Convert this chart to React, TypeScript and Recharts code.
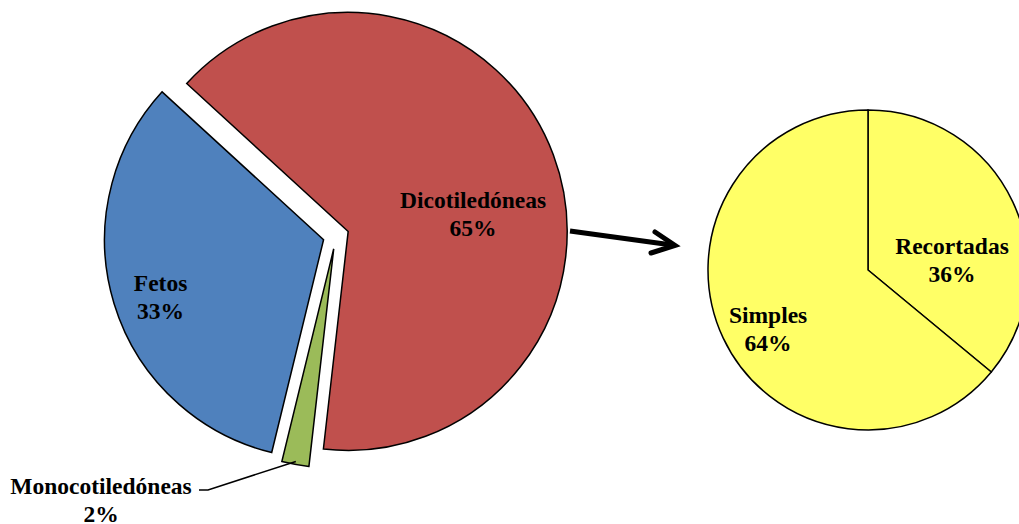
import React from 'react';
import { PieChart, Pie, Cell, Customized } from 'recharts';

// Left pie: plant groups (exploded)
const groupNames = ['Dicotiledóneas', 'Monocotiledóneas', 'Fetos'];
const groupValues = [65, 2, 33];
const groupColors = ['#C0504D', '#9BBB59', '#4F81BD'];

// Right pie: leaf types of Dicotiledóneas
const leafNames = ['Recortadas', 'Simples'];
const leafValues = [36, 64];
const leafColor = '#FFFF66';

const groupData = groupNames.map((name, i) => ({ name, value: groupValues[i] }));
const leafData = leafNames.map((name, i) => ({ name, value: leafValues[i] }));

const FONT = "'Liberation Serif', 'Times New Roman', serif";
const START = 137.5;
const LEFT_C = { x: 336, y: 236 };
const EXPLODE = 13;
const R_LEFT = 219;
const RIGHT_C = { x: 868, y: 270 };
const R_RIGHT = 160;

// label placement: [angle in degrees, fraction of radius] from slice apex
const labelPos: Record<string, [number, number]> = {
  'Dicotiledóneas': [7.3, 0.575],
  Fetos: [199.6, 0.79],
  Recortadas: [6.1, 0.528],
  Simples: [210.8, 0.727],
};

const RAD = Math.PI / 180;

const total = groupValues.reduce((a, b) => a + b, 0);
const midAngles = groupValues.map((v, i) => {
  const before = groupValues.slice(0, i).reduce((a, b) => a + b, 0);
  return START - ((before + v / 2) / total) * 360;
});

const TwoLine = ({ x, y, a, b }: { x: number; y: number; a: string; b: string }) => (
  <text x={x} y={y - 7} textAnchor="middle" fontFamily={FONT} fontWeight="bold" fontSize={23.5} fill="#000">
    <tspan x={x}>{a}</tspan>
    <tspan x={x} dy={28}>{b}</tspan>
  </text>
);

const makeLabel = (only: number) => (props: any) => {
  const { cx, cy, outerRadius, index, name, percent, midAngle } = props;
  if (index !== only) return null;
  const pct = `${Math.round(percent * 100)}%`;
  const pos = labelPos[name];
  if (pos) {
    const x = cx + outerRadius * pos[1] * Math.cos(pos[0] * RAD);
    const y = cy - outerRadius * pos[1] * Math.sin(pos[0] * RAD);
    return <TwoLine x={x} y={y} a={name} b={pct} />;
  }
  // outside label with leader line
  const ox = cx + (outerRadius - 3) * Math.cos(midAngle * RAD);
  const oy = cy - (outerRadius - 3) * Math.sin(midAngle * RAD);
  return (
    <g>
      <polyline points={`${ox},${oy} 208,490 199,490`} fill="none" stroke="#000" strokeWidth={1.5} />
      <TwoLine x={101} y={501} a={name} b={pct} />
    </g>
  );
};

const Arrow = () => (
  <g stroke="#000" strokeWidth={5} fill="none">
    <line x1={570} y1={231} x2={672} y2={245} />
    <polyline points="655,232 675,245.5 651,253" strokeLinecap="round" />
  </g>
);

export default function App() {
  return (
    <div style={{ position: 'absolute', left: 0, top: 0, background: '#fff' }}>
      <PieChart width={1019} height={524} margin={{ top: 0, right: 0, bottom: 0, left: 0 }}>
        {groupData.map((g, k) => (
          <Pie
            key={g.name}
            data={groupData}
            dataKey="value"
            nameKey="name"
            cx={LEFT_C.x + EXPLODE * Math.cos(midAngles[k] * RAD)}
            cy={LEFT_C.y - EXPLODE * Math.sin(midAngles[k] * RAD)}
            outerRadius={R_LEFT}
            startAngle={START}
            endAngle={START - 360}
            label={makeLabel(k)}
            labelLine={false}
            isAnimationActive={false}
          >
            {groupData.map((d, i) => (
              <Cell
                key={d.name}
                fill={i === k ? groupColors[i] : 'none'}
                stroke={i === k ? '#000' : 'none'}
                strokeWidth={1.5}
              />
            ))}
          </Pie>
        ))}
        <Pie
          data={leafData}
          dataKey="value"
          nameKey="name"
          cx={RIGHT_C.x}
          cy={RIGHT_C.y}
          outerRadius={R_RIGHT}
          startAngle={90}
          endAngle={-270}
          label={(p: any) => {
            const pos = labelPos[p.name];
            const x = p.cx + p.outerRadius * pos[1] * Math.cos(pos[0] * RAD);
            const y = p.cy - p.outerRadius * pos[1] * Math.sin(pos[0] * RAD);
            return <TwoLine x={x} y={y} a={p.name} b={`${Math.round(p.percent * 100)}%`} />;
          }}
          labelLine={false}
          isAnimationActive={false}
        >
          {leafData.map((d) => (
            <Cell key={d.name} fill={leafColor} stroke="#000" strokeWidth={1.5} />
          ))}
        </Pie>
        <Customized component={Arrow} />
      </PieChart>
    </div>
  );
}
